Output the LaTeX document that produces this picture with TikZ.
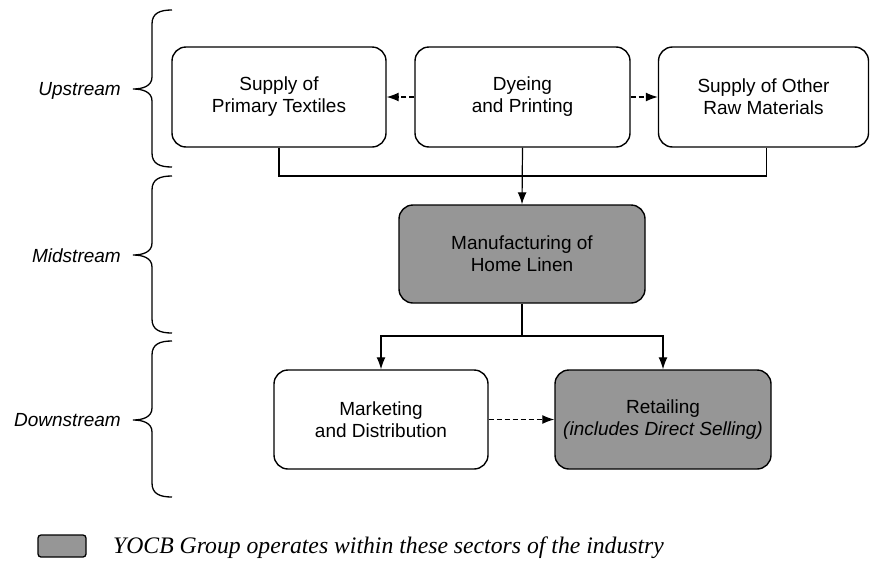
\documentclass[tikz,border=0pt]{standalone}
\usepackage{fontspec}
\setmainfont{Liberation Sans}
\newfontfamily\legendfont{Liberation Serif}
\usetikzlibrary{arrows.meta}

\definecolor{sectorgray}{HTML}{969696}

\tikzset{
  stagebox/.style={draw, line width=1.4pt, rounded corners=14pt, align=center,
    font=\fontsize{19}{22}\selectfont, inner sep=0pt},
  ownbox/.style={stagebox, fill=sectorgray},
  link/.style={line width=1.2pt, -{Latex[length=12pt,width=9pt]}},
  dashlink/.style={link, dash pattern=on 5pt off 3pt},
  plain/.style={line width=1.2pt},
  bracket/.style={line width=1.3pt},
  stagelabel/.style={anchor=east, font=\fontsize{19}{22}\selectfont\itshape, inner sep=0pt}
}

\begin{document}
\begin{tikzpicture}[x=1pt,y=-1pt]
\useasboundingbox (0,0) rectangle (870,560);

% value-chain stages
\node[stagebox, minimum width=214pt, minimum height=100pt] (prim) at (279,97)
  {Supply of\\Primary Textiles};
\node[stagebox, minimum width=215pt, minimum height=100pt] (dye) at (522.5,97)
  {Dyeing\\and Printing};
\node[stagebox, minimum width=210pt, minimum height=100pt] (raw) at (763.5,97)
  {Supply of Other\\Raw Materials};
\node[ownbox, minimum width=246pt, minimum height=98pt] (manu) at (522,254)
  {Manufacturing of\\Home Linen};
\node[stagebox, minimum width=214pt, minimum height=99pt] (mkt) at (381,419.5)
  {Marketing\\and Distribution};
\node[ownbox, minimum width=216pt, minimum height=99pt] (ret) at (663,419.5)
  {Retailing\\{\itshape (includes Direct Selling)}};

% connectors
\coordinate (upjoin) at (522,176);
\coordinate (downjoin) at (522,336);
\draw[dashlink] (dye.west) -- (prim.east);
\draw[dashlink] (dye.east) -- (raw.west);
\draw[plain] (prim.south) |- (upjoin) -| ([xshift=3pt]raw.south);
\draw[link] (dye.south) -- (manu.north);
\draw[plain] (manu.south) -- (downjoin);
\draw[link] (downjoin) -| (mkt.north);
\draw[link] (downjoin) -| (ret.north);
\draw[dashlink] (mkt.east) -- (ret.west);

% stream brackets
\foreach \ya/\ym/\yb in {10/89/167, 176/255/333, 341/420/497}{
  \draw[bracket] (172,\ya) .. controls (160,\ya) and (152,\ya+3) .. (152,\ya+14)
    -- (152,\ym-12) .. controls (152,\ym-3) and (143,\ym) .. (133,\ym)
    .. controls (143,\ym) and (152,\ym+3) .. (152,\ym+12)
    -- (152,\yb-14) .. controls (152,\yb-3) and (160,\yb) .. (172,\yb);
}
\node[stagelabel] (up) at (121,91) {Upstream};
\node[stagelabel] (mid) at (121,256) {Midstream};
\node[stagelabel] (down) at (121,420) {Downstream};

% legend
\node[draw, line width=1.3pt, fill=sectorgray, rounded corners=3pt,
  minimum width=48pt, minimum height=22pt, inner sep=0pt] (key) at (62,546) {};
\node[anchor=base west, inner sep=0pt, font=\legendfont\itshape\fontsize{23.7}{26}\selectfont]
  (keytext) at (113,553) {YOCB Group operates within these sectors of the industry};
\end{tikzpicture}
\end{document}
